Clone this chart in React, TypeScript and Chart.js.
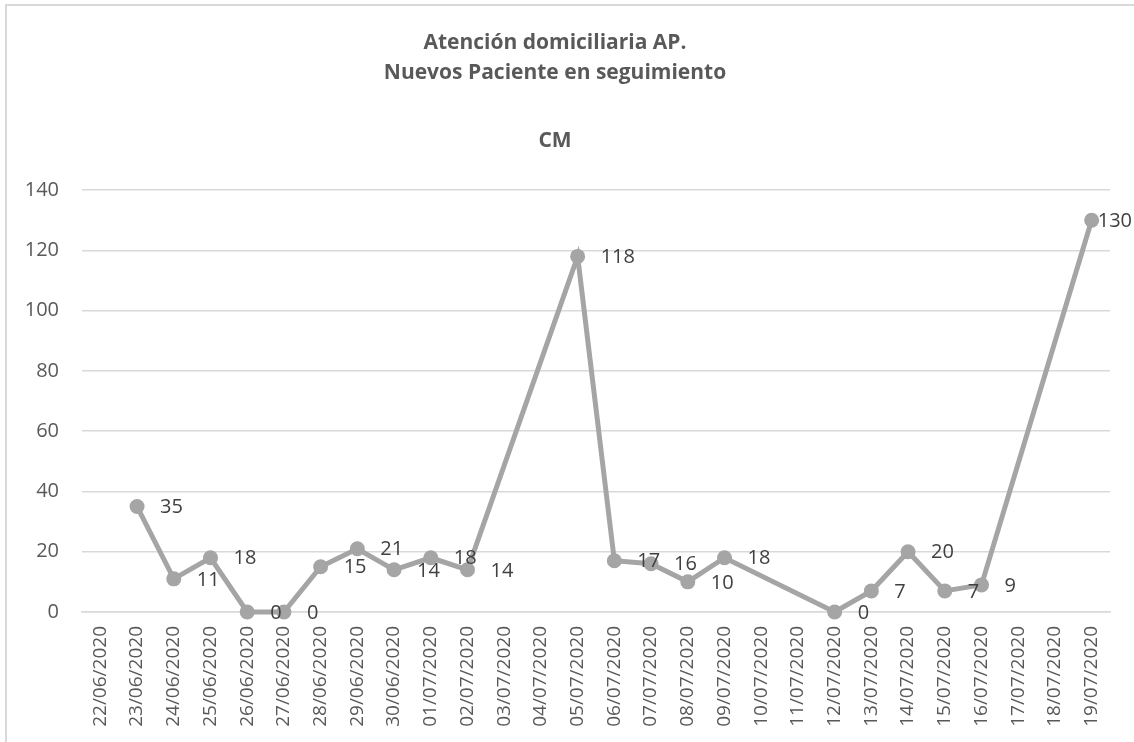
import React, { useEffect, useRef } from "react";
import { Chart, registerables } from "chart.js";

Chart.register(...registerables);

const categories = [
  "22/06/2020", "23/06/2020", "24/06/2020", "25/06/2020", "26/06/2020", "27/06/2020", "28/06/2020",
  "29/06/2020", "30/06/2020", "01/07/2020", "02/07/2020", "03/07/2020", "04/07/2020", "05/07/2020",
  "06/07/2020", "07/07/2020", "08/07/2020", "09/07/2020", "10/07/2020", "11/07/2020", "12/07/2020",
  "13/07/2020", "14/07/2020", "15/07/2020", "16/07/2020", "17/07/2020", "18/07/2020", "19/07/2020",
];

const values: (number | null)[] = [
  null, 35, 11, 18, 0, 0, 15,
  21, 14, 18, 14, null, null, 118,
  17, 16, 10, 18, null, null, 0,
  7, 20, 7, 9, null, null, 130,
];

const yTicks = [0, 20, 40, 60, 80, 100, 120, 140];

const titleLines = ["Atención domiciliaria AP.", "Nuevos Paciente en seguimiento"];
const subtitleText = "CM";

const FONT = "'Open Sans', 'Noto Sans', sans-serif";

const pointLabelPlugin = {
  id: "pointLabelPlugin",
  afterDatasetsDraw(chart: any) {
    const ctx = chart.ctx;
    const meta = chart.getDatasetMeta(0);
    ctx.save();
    ctx.font = `20px ${FONT}`;
    ctx.fillStyle = "#404040";
    ctx.textBaseline = "middle";
    ctx.textAlign = "left";
    meta.data.forEach((pt: any, i: number) => {
      const v = values[i];
      if (v === null || v === undefined) return;
      const text = String(v);
      const w = ctx.measureText(text).width;
      let x = pt.x + 23;
      if (x + w > chart.width - 2) x = chart.width - 2 - w;
      ctx.fillText(text, x, pt.y + 1);
    });
    ctx.restore();
  },
};

export default function App() {
  const canvasRef = useRef<HTMLCanvasElement | null>(null);

  useEffect(() => {
    if (!canvasRef.current) return;
    const chart = new Chart(canvasRef.current, {
      type: "line",
      data: {
        labels: categories,
        datasets: [
          {
            label: "CM",
            data: values,
            borderColor: "#A5A5A5",
            backgroundColor: "#A5A5A5",
            borderWidth: 5,
            pointRadius: 7.5,
            pointBackgroundColor: "#A5A5A5",
            pointBorderColor: "#A5A5A5",
            pointBorderWidth: 0,
            spanGaps: true,
            tension: 0,
            clip: false as any,
          },
        ],
      },
      options: {
        animation: false,
        responsive: false,
        devicePixelRatio: 1,
        layout: { padding: { left: 0, right: 24, top: 0, bottom: 0 } },
        plugins: {
          legend: { display: false },
          tooltip: { enabled: false },
          title: {
            display: true,
            text: titleLines,
            color: "#595959",
            font: { family: FONT, size: 21, weight: "bold", lineHeight: 1.43 },
            padding: { top: 28, bottom: 10 },
          },
          subtitle: {
            display: true,
            text: subtitleText,
            color: "#595959",
            font: { family: FONT, size: 21, weight: "bold", lineHeight: 1.43 },
            padding: { top: 28, bottom: 34 },
          },
        },
        scales: {
          x: {
            type: "category",
            offset: true,
            grid: { display: false, drawTicks: false },
            border: { display: true, color: "#D9D9D9", width: 1.5 },
            ticks: {
              autoSkip: false,
              minRotation: 90,
              maxRotation: 90,
              padding: 14,
              color: "#595959",
              font: { family: FONT, size: 19 },
            },
            afterFit: (scale: any) => {
              scale.height = 130;
            },
          },
          y: {
            min: 0,
            max: 140,
            grid: { color: "#D9D9D9", lineWidth: 1.5, drawTicks: false },
            border: { display: false },
            ticks: {
              stepSize: 20,
              padding: 23,
              color: "#595959",
              font: { family: FONT, size: 20 },
            },
            afterBuildTicks: (scale: any) => {
              scale.ticks = yTicks.map((v) => ({ value: v }));
            },
            afterFit: (scale: any) => {
              scale.width = 82;
            },
          },
        },
      },
      plugins: [pointLabelPlugin],
    });
    return () => chart.destroy();
  }, []);

  return (
    <div
      style={{
        position: "fixed",
        left: 0,
        top: 0,
        width: 1134,
        height: 742,
        overflow: "hidden",
        background: "#ffffff",
      }}
    >
      <div
        style={{
          position: "absolute",
          left: 5,
          top: 4,
          width: 2000,
          height: 2000,
          borderLeft: "2px solid #D9D9D9",
          borderTop: "2px solid #D9D9D9",
        }}
      />
      <canvas
        ref={canvasRef}
        width={1134}
        height={742}
        style={{ position: "absolute", left: 0, top: 0, width: 1134, height: 742 }}
      />
    </div>
  );
}
